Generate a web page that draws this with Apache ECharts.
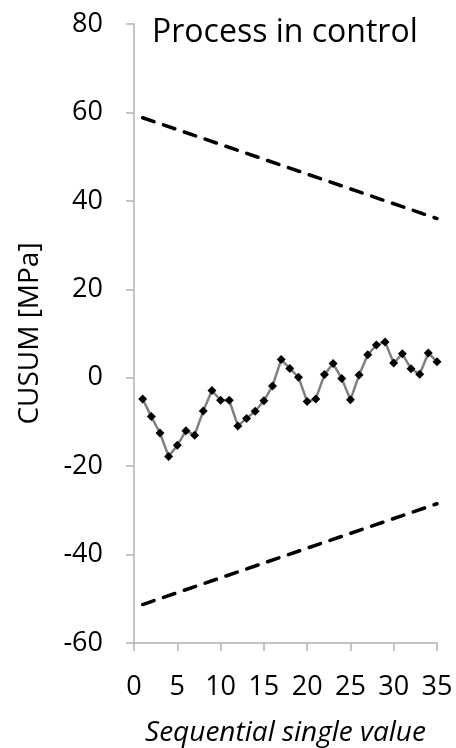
<!DOCTYPE html>
<html>
<head>
<meta charset="utf-8">
<script src="https://cdn.jsdelivr.net/npm/echarts@6/dist/echarts.min.js"></script>
<style>html,body{margin:0;padding:0;background:#fff;}#c{width:456px;height:748px;}</style>
</head>
<body>
<div id="c"></div>
<script>
var sequence = [1,2,3,4,5,6,7,8,9,10,11,12,13,14,15,16,17,18,19,20,21,22,23,24,25,26,27,28,29,30,31,32,33,34,35];
var cusum = [-4.8,-8.8,-12.5,-17.8,-15.3,-12.0,-13.0,-7.5,-2.9,-5.1,-5.1,-10.9,-9.2,-7.6,-5.2,-1.9,4.1,2.1,0.1,-5.4,-4.8,0.7,3.2,-0.2,-5.0,0.6,5.2,7.4,8.1,3.3,5.4,2.0,0.8,5.6,3.6];
var upperX = [1,35];
var upperY = [58.8,36.0];
var lowerX = [1,35];
var lowerY = [-51.3,-28.5];
var titleText = 'Process in control';
var yName = 'CUSUM [MPa]';
var xName = 'Sequential single value';

function pairs(xs, ys){ return xs.map(function(x,i){ return [x, ys[i]]; }); }

var font = 'Open Sans';
var chart = echarts.init(document.getElementById('c'));
chart.setOption({
  animation: false,
  backgroundColor: '#fff',
  title: {
    text: titleText, left: 147, top: 12,
    textStyle: {fontFamily: font, fontSize: 32, fontWeight: 'normal', color: '#000'}
  },
  grid: {left: 134, right: 19, top: 24, bottom: 105, containLabel: false, outerBoundsMode: 'none'},
  xAxis: {
    type: 'value', min: 0, max: 35, interval: 5,
    name: xName, nameLocation: 'middle', nameGap: 76,
    nameTextStyle: {fontFamily: font, fontSize: 28, fontStyle: 'italic', color: '#000'},
    axisLine: {show: true, onZero: false, lineStyle: {color: '#b3b3b3', width: 1.5}},
    axisTick: {show: true, inside: false, length: 8, lineStyle: {color: '#b3b3b3', width: 1.5}},
    axisLabel: {fontFamily: font, fontSize: 27, color: '#000', margin: 31},
    splitLine: {show: false}
  },
  yAxis: {
    type: 'value', min: -60, max: 80, interval: 20,
    name: yName, nameLocation: 'middle', nameGap: 90, nameRotate: 90,
    nameTextStyle: {fontFamily: font, fontSize: 28, color: '#000'},
    axisLine: {show: true, onZero: false, lineStyle: {color: '#b3b3b3', width: 1.5}},
    axisTick: {show: true, inside: false, length: 8, lineStyle: {color: '#b3b3b3', width: 1.5}},
    axisLabel: {fontFamily: font, fontSize: 27, color: '#000', margin: 31},
    splitLine: {show: false}
  },
  series: [
    {
      type: 'line', data: pairs(upperX, upperY), symbol: 'none',
      lineStyle: {color: '#000', width: 3.5, type: [12, 10], cap: 'round'}
    },
    {
      type: 'line', data: pairs(lowerX, lowerY), symbol: 'none',
      lineStyle: {color: '#000', width: 3.5, type: [12, 10], cap: 'round'}
    },
    {
      type: 'line', data: pairs(sequence, cusum),
      symbol: 'diamond', symbolSize: 9,
      lineStyle: {color: '#808080', width: 2.5},
      itemStyle: {color: '#000', borderWidth: 0}
    }
  ]
});
</script>
</body>
</html>
